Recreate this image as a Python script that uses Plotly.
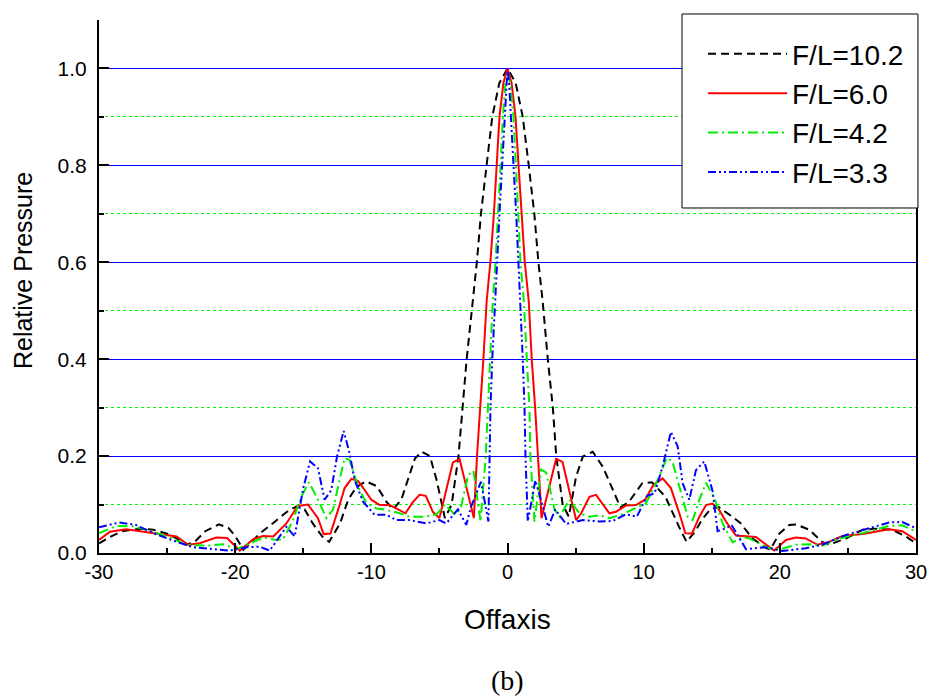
import plotly.graph_objects as go

# Off-axis pressure profiles, one per focal ratio F/L
x_fl102 = [-30, -29.2, -28.3, -27.0, -26.0, -25.0, -24.3, -23.6, -23.0, -22.2, -21.2, -20.5, -20.0, -19.4,
           -18.9, -18.2, -17.2, -16.2, -15.5, -14.9, -14.3, -13.6, -13.1, -12.3, -11.7, -11.1, -10.4,
           -9.6, -8.9, -8.4, -7.8, -7.3, -6.8, -6.3, -5.7, -5.2, -4.6, -4.1, -3.6, -3.3, -3.0, -2.55,
           -2.25, -1.95, -1.56, -1.12, -0.6, 0,
           0.6, 1.12, 1.56, 1.97, 2.27, 2.58, 2.96, 3.33, 3.58, 4.05, 4.5, 5.04, 5.53, 6.26, 7.0,
           7.73, 8.3, 8.9, 9.9, 10.6, 11.6, 12.6, 13.15, 13.8, 14.3, 14.9, 15.5, 16.5, 17.1, 18.0,
           19.0, 19.3, 19.96, 20.7, 21.2, 22.16, 23.1, 23.6, 24.85, 26.07, 27.05, 28.27, 29.25, 30]
y_fl102 = [0.020, 0.033, 0.045, 0.050, 0.048, 0.040, 0.030, 0.017, 0.022, 0.045, 0.059, 0.052, 0.035, 0.007,
           0.020, 0.040, 0.062, 0.085, 0.096, 0.090, 0.061, 0.034, 0.023, 0.061, 0.110, 0.136, 0.148,
           0.138, 0.106, 0.090, 0.110, 0.154, 0.195, 0.209, 0.200, 0.150, 0.072, 0.100, 0.200, 0.300, 0.400, 0.520,
           0.600, 0.700, 0.800, 0.900, 0.970, 1.000,
           0.970, 0.900, 0.800, 0.700, 0.600, 0.520, 0.400, 0.300, 0.200, 0.100, 0.075, 0.158, 0.199, 0.209, 0.178,
           0.130, 0.094, 0.105, 0.144, 0.146, 0.116, 0.054, 0.023, 0.045, 0.070, 0.090, 0.095, 0.075, 0.062, 0.030,
           0.010, 0.007, 0.040, 0.058, 0.059, 0.048, 0.023, 0.017, 0.030, 0.048, 0.050, 0.048, 0.034, 0.020]

x_fl60 = [-30, -29.2, -28.0, -26.8, -25.5, -24.3, -23.45, -22.6, -21.4, -20.6, -19.66, -18.7, -17.95, -17.2,
          -16.24, -15.4, -14.65, -13.92, -13.5, -13.0, -12.33, -11.96, -11.47, -10.98, -10.49, -10.0, -9.39,
          -8.66, -8.17, -7.5, -6.95, -6.46, -6.0, -5.48, -5.0, -4.01, -3.52, -2.47, -2.24, -2.0, -1.77,
          -1.53, -1.26, -1.0, -0.79, -0.59, -0.3, 0,
          0.3, 0.59, 0.81, 1.03, 1.27, 1.56, 1.78, 2.03, 2.23, 2.5, 3.57, 4.04, 5.04, 5.41, 6.02, 6.5,
          7.48, 7.97, 8.71, 9.44, 10.1, 10.7, 11.39, 12.0, 12.62, 13.06, 13.55, 14.09, 14.58, 15.06, 15.55,
          16.04, 16.78, 17.51, 18.25, 18.86, 19.59, 20.45, 21.18, 21.9, 22.77, 23.6, 24.6, 26.07, 28.03, 29.0, 30]
y_fl60 = [0.027, 0.044, 0.049, 0.044, 0.039, 0.034, 0.017, 0.020, 0.032, 0.031, 0.005, 0.028, 0.035, 0.034,
          0.061, 0.097, 0.100, 0.072, 0.039, 0.040, 0.099, 0.134, 0.153, 0.149, 0.130, 0.110, 0.099,
          0.099, 0.092, 0.082, 0.105, 0.120, 0.118, 0.085, 0.072, 0.187, 0.194, 0.072, 0.200, 0.300, 0.400,
          0.520, 0.600, 0.700, 0.800, 0.900, 0.970, 1.000,
          0.970, 0.900, 0.800, 0.700, 0.600, 0.520, 0.400, 0.300, 0.200, 0.072, 0.194, 0.188, 0.068, 0.082, 0.116, 0.120,
          0.082, 0.085, 0.098, 0.099, 0.110, 0.140, 0.154, 0.134, 0.082, 0.041, 0.040, 0.075, 0.099, 0.102, 0.089,
          0.065, 0.036, 0.034, 0.033, 0.020, 0.005, 0.027, 0.032, 0.030, 0.017, 0.023, 0.035, 0.039, 0.049, 0.045, 0.027]

x_fl42 = [-30, -28.7, -27.5, -26.5, -25.0, -23.57, -22.1, -20.9, -19.9, -18.93, -17.9, -17.2, -16.5,
          -15.75, -15.14, -14.58, -13.92, -13.3, -12.82, -12.33, -11.96, -11.6, -11.23, -10.86, -10.37,
          -9.63, -8.9, -7.92, -7.2, -6.0, -5.2, -4.6, -3.9, -3.45, -2.9, -2.5, -1.98, -1.6, -1.44, -1.27,
          -1.08, -0.88, -0.68, -0.51, -0.34, -0.15, 0,
          0.2, 0.44, 0.64, 0.79, 0.95, 1.2, 1.42, 1.61, 1.68, 1.98, 2.47, 2.84, 3.45, 3.82, 4.55, 4.9, 5.28,
          6.02, 6.75, 7.5, 8.46, 9.2, 10.18, 11.03, 11.7, 12.1, 12.62, 13.23, 13.6, 14.09, 14.58, 15.19,
          15.8, 16.53, 17.26, 17.75, 19.2, 19.96, 21.18, 22.16, 23.1, 24.36, 26.07, 28.03, 29.0, 30]
y_fl42 = [0.041, 0.056, 0.055, 0.048, 0.034, 0.017, 0.015, 0.018, 0.008, 0.020, 0.032, 0.028, 0.027,
          0.068, 0.116, 0.146, 0.110, 0.072, 0.089, 0.151, 0.196, 0.192, 0.158, 0.130, 0.103,
          0.092, 0.089, 0.082, 0.075, 0.075, 0.080, 0.100, 0.080, 0.090, 0.160, 0.170, 0.065, 0.200, 0.300, 0.400,
          0.520, 0.600, 0.700, 0.800, 0.900, 0.970, 0.990,
          0.970, 0.900, 0.800, 0.700, 0.600, 0.520, 0.400, 0.300, 0.200, 0.065, 0.172, 0.166, 0.090, 0.075, 0.110, 0.096, 0.082,
          0.075, 0.078, 0.072, 0.080, 0.090, 0.103, 0.150, 0.196, 0.190, 0.137, 0.075, 0.068, 0.110, 0.145, 0.114,
          0.061, 0.022, 0.033, 0.030, 0.010, 0.007, 0.017, 0.018, 0.015, 0.030, 0.041, 0.056, 0.057, 0.044]

x_fl33 = [-30, -28.5, -27.3, -26.0, -24.8, -23.1, -21.6, -20.4, -19.17, -18.2, -17.46, -16.24, -15.63,
          -15.0, -14.5, -13.92, -13.43, -12.94, -12.52, -12.03, -11.6, -11.23, -10.61, -9.76, -8.9, -8.17,
          -7.2, -5.96, -5.0, -4.5, -3.64, -3.03, -2.67, -1.95, -1.4, -1.32, -1.25, -1.12, -0.88, -0.76,
          -0.59, -0.39, -0.22, -0.1, 0,
          0.12, 0.27, 0.44, 0.64, 0.78, 0.93, 1.12, 1.25, 1.32, 1.49, 2.05, 2.59, 3.0, 3.5, 4.3, 5.53,
          6.75, 7.73, 8.71, 9.5, 10.25, 10.8, 11.39, 12.0, 12.5, 12.86, 13.35, 13.84, 14.45, 15.06, 15.43,
          16.04, 16.45, 17.51, 18.98, 20.2, 21.9, 23.1, 24.85, 26.56, 28.03, 29.0, 30]
y_fl33 = [0.053, 0.063, 0.058, 0.041, 0.028, 0.012, 0.008, 0.005, 0.012, 0.013, 0.005, 0.054, 0.034,
          0.134, 0.189, 0.175, 0.110, 0.130, 0.199, 0.252, 0.206, 0.151, 0.106, 0.079, 0.079, 0.068,
          0.068, 0.061, 0.068, 0.061, 0.090, 0.058, 0.096, 0.147, 0.065, 0.200, 0.300, 0.400, 0.520, 0.600,
          0.700, 0.800, 0.900, 0.970, 1.000,
          0.970, 0.900, 0.800, 0.700, 0.600, 0.520, 0.400, 0.300, 0.200, 0.065, 0.150, 0.096, 0.054, 0.090, 0.060, 0.068,
          0.065, 0.066, 0.080, 0.075, 0.118, 0.123, 0.178, 0.250, 0.220, 0.144, 0.110, 0.171, 0.189, 0.128, 0.045,
          0.051, 0.058, 0.008, 0.012, 0.004, 0.010, 0.017, 0.037, 0.051, 0.063, 0.064, 0.051]

series = [
    ("F/L=10.2", x_fl102, y_fl102, "#000000", "8px,5px"),
    ("F/L=6.0", x_fl60, y_fl60, "#ff0000", "solid"),
    ("F/L=4.2", x_fl42, y_fl42, "#00ee00", "10px,4px,2px,4px"),
    ("F/L=3.3", x_fl33, y_fl33, "#0000ff", "8px,3px,2px,3px,2px,3px"),
]

x_ticks = [-30, -20, -10, 0, 10, 20, 30]
y_ticks = [0.0, 0.2, 0.4, 0.6, 0.8, 1.0]
y_tick_text = ["0.0", "0.2", "0.4", "0.6", "0.8", "1.0"]

fig = go.Figure()
for name, xs, ys, color, dash in series:
    fig.add_trace(go.Scatter(x=xs, y=ys, mode="lines", name=name,
                             line=dict(color=color, width=2, dash=dash)))

font_main = "Liberation Sans, Arial, sans-serif"

# framed legend panel (white box with black border) in the upper right corner
fig.add_shape(type="rect", xref="paper", yref="paper",
              x0=0.7136, x1=1.0024, y0=0.6473, y1=1.0113,
              fillcolor="white", line=dict(color="black", width=1), layer="above")

fig.update_layout(
    width=933, height=697,
    margin=dict(l=99, r=17, t=20, b=144, autoexpand=False),
    paper_bgcolor="white", plot_bgcolor="white",
    showlegend=True,
    legend=dict(x=0.7393, y=0.983, xanchor="left", yanchor="top",
                bgcolor="rgba(0,0,0,0)", borderwidth=0,
                font=dict(family=font_main, size=28, color="black"),
                itemwidth=79, tracegroupgap=0),
    xaxis=dict(range=[-30, 30], tickvals=x_ticks, ticktext=[str(v) for v in x_ticks],
               ticks="inside", ticklen=10, tickwidth=2, tickcolor="black",
               minor=dict(dtick=5, ticks="inside", ticklen=5, tickwidth=2, tickcolor="black"),
               showline=True, linecolor="black", linewidth=2, showgrid=False, zeroline=False,
               automargin=False,
               tickfont=dict(family=font_main, size=20, color="black")),
    yaxis=dict(range=[0, 1.1], tickvals=y_ticks, ticktext=y_tick_text,
               ticks="inside", ticklen=10, tickwidth=2, tickcolor="black",
               minor=dict(dtick=0.1, tick0=0, ticks="inside", ticklen=5, tickwidth=2, tickcolor="black",
                          showgrid=True, gridcolor="#00ff00", griddash="dot", gridwidth=1),
               showline=True, linecolor="black", linewidth=2, mirror=True,
               showgrid=True, gridcolor="#0000ff", gridwidth=1, zeroline=False,
               ticklabelstandoff=6, automargin=False,
               tickfont=dict(family=font_main, size=21, color="black")),
    annotations=[
        dict(text="Relative Pressure", xref="paper", yref="paper", x=-0.093, y=0.529,
             textangle=-90, showarrow=False, xanchor="center", yanchor="middle",
             font=dict(family=font_main, size=25, color="black")),
        dict(text="Offaxis", xref="paper", yref="paper", x=0.5, y=-0.1257,
             showarrow=False, xanchor="center", yanchor="middle",
             font=dict(family=font_main, size=28, color="black")),
        dict(text="(b)", xref="paper", yref="paper", x=0.5, y=-0.240,
             showarrow=False, xanchor="center", yanchor="middle",
             font=dict(family="Liberation Serif, Times New Roman, serif", size=28, color="black")),
    ],
)

fig.write_html("out.html")
